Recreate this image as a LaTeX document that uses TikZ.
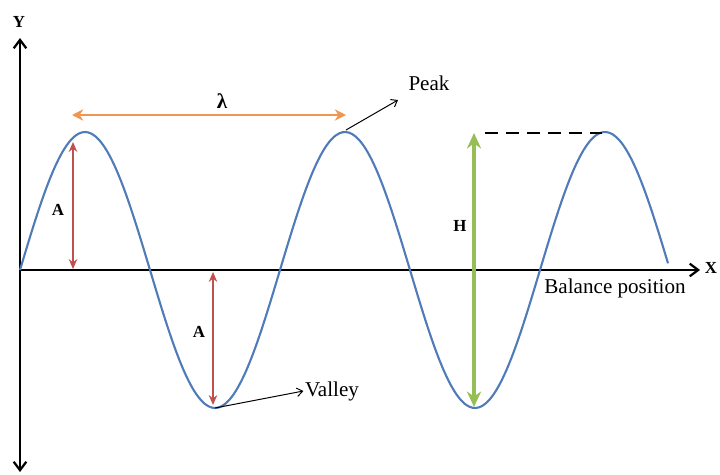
\documentclass[tikz,border=0pt]{standalone}
\usepackage{fontspec}
\setmainfont{Liberation Serif}
\usetikzlibrary{arrows.meta}

\definecolor{waveblue}{RGB}{79,123,184}
\definecolor{ampred}{RGB}{192,80,77}
\definecolor{lamorange}{RGB}{240,150,80}
\definecolor{hgreen}{RGB}{150,190,85}

\begin{document}
\begin{tikzpicture}[
    x=0.025cm, y=-0.025cm, % pixel grid, y pointing down
    axis/.style={line width=2pt, -{Straight Barb[length=6pt,width=9pt,line width=1.6pt]}},
    wave/.style={waveblue, line width=1.5pt},
    ampline/.style={ampred, line width=1.4pt, {Stealth[length=7pt,width=6pt]}-{Stealth[length=7pt,width=6pt]}},
    lamline/.style={lamorange, line width=2pt, {Stealth[length=8pt,width=8pt]}-{Stealth[length=8pt,width=8pt]}},
    hline/.style={hgreen, line width=2.6pt, {Stealth[length=11pt,width=10pt]}-{Stealth[length=11pt,width=10pt]}},
    pointer/.style={line width=0.7pt, -{Straight Barb[length=4pt,width=6pt]}},
    lbl/.style={font=\fontsize{15}{17}\selectfont, inner sep=1pt},
    sym/.style={font=\fontsize{12}{14}\selectfont\bfseries, inner sep=1pt},
    axlbl/.style={font=\fontsize{12}{14}\selectfont\bfseries, inner sep=1pt}
]
  \useasboundingbox (0,0) rectangle (720,474);

  % axes
  \coordinate (o) at (20,270);
  \coordinate (ytop) at (20,38);
  \coordinate (ybot) at (20,472);
  \coordinate (xend) at (700,270);
  \draw[axis] (o) -- (ytop);
  \draw[axis] (o) -- (ybot);
  \draw[axis] (o) -- (xend);
  \node[axlbl] (ylab) at (19,22) {Y};
  \node[axlbl] (xlab) at (711,268) {X};

  % the wave
  \draw[wave] plot[domain=20:668, samples=200, smooth] (\x, {270-138*sin((\x-20)/260*360)});

  % peaks and valleys
  \coordinate (peak1) at (85,132);
  \coordinate (valley1) at (215,408);
  \coordinate (peak2) at (346,130);
  \coordinate (valley2) at (475,408);
  \coordinate (peak3) at (605,132);

  % amplitude
  \coordinate (a1top) at (73,142);
  \coordinate (a1bot) at (73,269);
  \draw[ampline] (a1top) -- (a1bot);
  \node[sym] (alab1) at (58,210) {A};
  \coordinate (a2top) at (213,272);
  \coordinate (a2bot) at (213,405);
  \draw[ampline] (a2top) -- (a2bot);
  \node[sym] (alab2) at (199,332) {A};

  % wavelength
  \coordinate (l1) at (72,115);
  \coordinate (l2) at (346,115);
  \draw[lamline] (l1) -- (l2);
  \node[font=\bfseries\fontsize{15}{17}\selectfont] (lamlab) at (222,101) {λ};

  % height
  \coordinate (htop) at (474,133);
  \coordinate (hbot) at (474,407);
  \draw[hline] (htop) -- (hbot);
  \node[sym] (hlab) at (460,226) {H};
  \coordinate (dashstart) at (485,133);
  \coordinate (dashend) at (602,133);
  \draw[line width=1.4pt, dash pattern=on 9pt off 6pt] (dashstart) -- (dashend);

  % labels with pointers
  \node[lbl] (peaklab) at (429,83) {Peak};
  \coordinate (peaktip) at (398,100);
  \draw[pointer] (peak2) -- (peaktip);
  \node[lbl] (valleylab) at (332,391) {Valley};
  \draw[pointer] (valley1) -- (valleylab.west);
  \node[lbl] (ballab) at (615,288) {Balance position};
\end{tikzpicture}
\end{document}
